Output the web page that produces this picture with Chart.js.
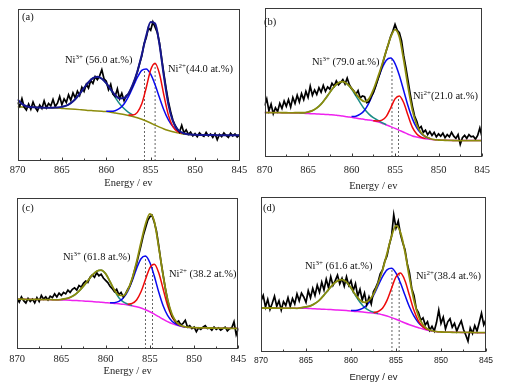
<!DOCTYPE html>
<html>
<head>
<meta charset="utf-8">
<script src="https://cdn.jsdelivr.net/npm/chart.js@4.4.1/dist/chart.umd.min.js"></script>
<style>
  body { margin: 0; background: #fff; }
  #page { position: relative; width: 507px; height: 390px; overflow: hidden; }
  #page canvas { position: absolute; }
  .note { position: absolute; font-family: "Liberation Serif", "Times New Roman", serif; font-size: 10.5px; line-height: 1; white-space: nowrap; color: #111; }
  .note sup { font-size: 7px; position: relative; top: -4px; vertical-align: baseline; }
</style>
</head>
<body>
<div id="page">
  <canvas id="chartA" width="250" height="195" style="left:0;top:0"></canvas>
  <canvas id="chartB" width="257" height="195" style="left:250px;top:0"></canvas>
  <canvas id="chartC" width="250" height="195" style="left:0;top:195px"></canvas>
  <canvas id="chartD" width="257" height="195" style="left:250px;top:195px"></canvas>

  <div class="note" style="left:22px;top:11.5px">(a)</div>
  <div class="note" style="left:65px;top:54.7px">Ni<sup>3+</sup> (56.0 at.%)</div>
  <div class="note" style="left:168px;top:63.7px">Ni<sup>2+</sup>(44.0 at.%)</div>

  <div class="note" style="left:264px;top:16.7px">(b)</div>
  <div class="note" style="left:312px;top:57.2px">Ni<sup>3+</sup> (79.0 at.%)</div>
  <div class="note" style="left:413px;top:90.7px">Ni<sup>2+</sup>(21.0 at.%)</div>

  <div class="note" style="left:22px;top:203.2px">(c)</div>
  <div class="note" style="left:63px;top:252.4px">Ni<sup>3+</sup> (61.8 at.%)</div>
  <div class="note" style="left:169px;top:269.4px">Ni<sup>2+</sup> (38.2 at.%)</div>

  <div class="note" style="left:263px;top:202.7px">(d)</div>
  <div class="note" style="left:305px;top:261px">Ni<sup>3+</sup> (61.6 at.%)</div>
  <div class="note" style="left:416px;top:271px">Ni<sup>2+</sup>(38.4 at.%)</div>
</div>

<script>
// energy axis (eV), drawn high -> low
const highEnergy = 870;
const lowEnergy = 845;
const dataStep = 0.25; // measured spectrum sampling
const fitStep = 0.5;   // fitted curves sampling
const tickValues = [870, 865, 860, 855, 850, 845];
const minorTickValues = [867.5, 862.5, 857.5, 852.5, 847.5];
const axisTitle = "Energy / ev";

// ---------- (a) ----------
const aMeasured = [
  38.5, 36.0, 41.0, 35.5, 33.5, 37.5, 34.0, 38.8, 35.2, 33.0,
  36.8, 34.5, 39.5, 35.0, 37.8, 36.2, 40.5, 35.8, 38.0, 42.5,
  37.0, 40.8, 38.5, 43.5, 40.0, 44.8, 41.5, 46.0, 43.2, 48.5,
  45.8, 50.5, 48.0, 53.0, 51.0, 55.5, 53.5, 56.0, 60.0, 54.0,
  52.5, 47.0, 50.5, 44.0, 42.5, 47.5, 41.0, 44.5, 39.8, 43.0,
  44.0, 47.0, 50.0, 54.0, 58.5, 64.0, 69.0, 77.0, 81.0, 87.5,
  86.0, 91.5, 88.0, 84.5, 77.5, 67.0, 57.0, 47.5, 39.0, 32.5,
  27.0, 23.5, 21.0, 19.0, 23.5, 18.5, 20.5, 17.5, 19.0, 16.5,
  18.0, 16.0, 18.5, 17.0, 16.2, 18.8, 16.5, 17.8, 15.5, 18.0,
  14.0, 17.5, 16.0, 18.5, 16.8, 15.5, 18.2, 16.5, 17.8, 15.8,
  17.0
];
const aEnvelope = [
  40.5, 37.6, 36.0, 35.5, 35.3, 35.2, 35.1, 35.0, 35.1, 35.2,
  35.6, 36.4, 38.1, 40.6, 44.1, 48.1, 51.8, 54.5, 55.4, 54.1,
  51.2, 47.2, 43.4, 41.2, 41.4, 44.3, 50.5, 58.9, 69.9, 82.4,
  91.5, 90.5, 76.5, 55.3, 37.1, 26.2, 20.9, 18.8, 17.8, 17.4,
  17.2, 17.1, 17.1, 17.1, 17.1, 17.0, 17.0, 17.0, 17.0, 17.0, 17.0
];
const aBackground = [
  35.7, 35.6, 35.5, 35.4, 35.3, 35.2, 35.1, 35.0, 34.9, 34.8,
  34.6, 34.4, 34.2, 34.0, 33.8, 33.6, 33.3, 33.1, 32.9, 32.7,
  32.5, 32.1, 31.6, 31.1, 30.6, 30.0, 29.3, 28.5, 27.5, 26.3,
  25.0, 23.6, 22.3, 21.1, 20.1, 19.2, 18.5, 18.0, 17.6, 17.4,
  17.2, 17.1, 17.1, 17.1, 17.1, 17.0, 17.0, 17.0, 17.0, 17.0, 17.0
];
const aSatFrom = 865;
const aSat = [35.6, 36.4, 38.1, 40.6, 44.1, 48.1, 51.8, 54.5, 55.4, 54.1, 51.0, 46.6, 41.9, 37.7, 34.5, 32.0, 30.3];
const aNi3From = 860;
const aNi3 = [32.7, 32.7, 33.1, 34.6, 37.5, 42.3, 48.6, 55.0, 59.6, 60.5, 57.1, 50.1, 41.6, 33.4, 27.0, 22.7, 20.0, 18.6, 17.8];
const aNi2From = 857.5;
const aNi2 = [30.2, 30.2, 32.0, 37.6, 48.2, 59.9, 64.3, 57.2, 43.0, 30.2, 22.7, 19.4, 18.2];
const aPeaks = [855.7, 854.5];

// ---------- (b) ----------
const bMeasured = [
  34.5, 39.0, 31.0, 35.5, 29.0, 33.0, 30.5, 36.0, 32.5, 37.5,
  34.0, 38.5, 33.5, 40.0, 36.0, 41.5, 37.0, 42.5, 38.5, 44.0,
  40.0, 47.5, 41.5, 45.0, 42.0, 46.5, 43.5, 48.0, 44.0, 47.0,
  45.5, 49.5, 47.5, 51.0, 48.5, 50.0, 52.0, 49.0, 53.0, 48.5,
  46.0, 44.5, 42.0, 44.5, 39.5, 41.0, 40.5, 36.5, 37.0, 40.5,
  43.0, 47.0, 51.5, 56.0, 61.0, 66.5, 71.5, 76.0, 81.0, 84.5,
  89.0, 85.0, 83.5, 78.0, 68.0, 60.0, 51.0, 42.0, 34.0, 27.5,
  24.0, 19.0, 20.5, 16.5, 18.0, 15.0, 17.0, 14.5, 16.5, 13.5,
  15.5, 14.0, 16.0, 13.0, 15.0, 13.5, 16.5, 14.0, 12.5, 15.0,
  8.5, 13.0, 14.5, 12.5, 15.0, 13.5, 14.0, 12.0, 14.5, 19.5,
  13.5
];
const bEnvelope = [
  29.8, 29.8, 29.8, 29.8, 29.7, 29.7, 29.6, 29.7, 29.7, 29.7,
  30.2, 31.1, 32.9, 35.5, 39.2, 43.3, 47.2, 49.8, 50.6, 49.0,
  46.1, 42.3, 39.0, 37.2, 39.0, 45.0, 53.1, 61.9, 71.5, 80.5,
  85.5, 80.5, 65.0, 47.0, 31.4, 21.6, 16.3, 13.7, 12.4, 11.6,
  11.4, 11.3, 11.2, 11.1, 11.0, 11.0, 11.0, 11.0, 11.0, 11.0, 11.0
];
const bBackground = [
  29.8, 29.8, 29.8, 29.8, 29.7, 29.7, 29.6, 29.6, 29.5, 29.3,
  29.2, 29.0, 28.9, 28.7, 28.6, 28.4, 28.2, 27.8, 27.5, 27.0,
  26.6, 26.1, 25.7, 25.2, 24.8, 24.3, 23.7, 22.7, 21.5, 20.4,
  19.2, 17.9, 16.6, 15.3, 14.1, 13.4, 12.8, 12.3, 11.9, 11.6,
  11.4, 11.3, 11.2, 11.1, 11.0, 11.0, 11.0, 11.0, 11.0, 11.0, 11.0
];
const bSatFrom = 866;
const bSat = [29.7, 29.7, 30.2, 31.1, 32.9, 35.5, 39.2, 43.3, 47.2, 49.8, 50.6, 49.0, 45.6, 41.0, 36.3, 32.0, 28.8, 26.4, 24.7, 23.1, 21.7];
const bNi3From = 860;
const bNi3 = [27.1, 27.4, 28.7, 31.4, 36.3, 43.2, 51.6, 59.5, 65.0, 66.4, 62.7, 54.7, 44.5, 34.2, 25.6, 19.6, 15.8, 13.6, 12.4];
const bNi2From = 857.5;
const bNi2 = [24.4, 24.2, 24.7, 27.3, 32.9, 39.0, 41.0, 36.4, 27.8, 19.9, 15.4, 13.3, 12.4];
const bPeaks = [855.35, 854.6];

// ---------- (c) ----------
const cMeasured = [
  33.5, 31.0, 34.5, 32.0, 30.5, 33.5, 31.5, 33.0, 30.5, 34.0,
  31.5, 35.5, 33.0, 34.5, 32.5, 35.0, 34.0, 36.5, 34.5, 37.0,
  35.5, 37.5, 36.5, 39.0, 37.5, 39.5, 40.5, 39.0, 42.0, 41.0,
  43.5, 45.0, 44.0, 47.5, 49.0, 47.5, 50.5, 48.5, 49.5, 47.0,
  45.5, 44.0, 41.5, 40.0, 38.0, 39.5, 36.0, 37.5, 34.5, 36.5,
  39.5, 42.0, 46.0, 51.5, 56.5, 62.5, 68.5, 75.0, 80.0, 85.0,
  87.5, 88.5, 84.0, 78.0, 68.5, 58.0, 49.0, 40.0, 32.5, 26.5,
  22.0, 19.5, 17.5, 18.5, 16.0, 17.0, 19.0, 14.5, 15.5, 13.5,
  14.5, 11.5, 14.0, 13.0, 14.5, 15.5, 13.5, 14.0, 12.5, 14.5,
  13.0, 14.0, 12.5, 13.5, 14.5, 12.0, 13.5, 14.0, 18.0, 9.5,
  13.5
];
const cEnvelope = [
  33.0, 33.0, 32.9, 32.9, 32.8, 32.8, 32.7, 32.7, 32.6, 32.5,
  32.8, 33.3, 34.2, 35.8, 38.3, 41.6, 45.3, 48.9, 51.5, 52.2,
  49.9, 44.7, 39.1, 35.6, 35.3, 39.0, 46.6, 57.7, 70.5, 82.5,
  89.5, 84.5, 67.5, 48.6, 32.9, 22.9, 17.9, 15.6, 14.7, 14.3,
  14.1, 14.0, 14.0, 13.9, 13.9, 13.8, 13.8, 13.8, 13.7, 13.7, 13.7
];
const cBackground = [
  33.0, 33.0, 32.9, 32.9, 32.8, 32.8, 32.7, 32.7, 32.6, 32.5,
  32.4, 32.4, 32.3, 32.1, 32.0, 31.8, 31.6, 31.4, 31.2, 30.9,
  30.7, 30.5, 30.2, 29.9, 29.6, 29.2, 28.7, 28.0, 27.2, 26.0,
  24.7, 23.1, 21.4, 19.7, 18.1, 16.8, 15.9, 15.1, 14.6, 14.3,
  14.1, 14.0, 14.0, 13.9, 13.9, 13.8, 13.8, 13.8, 13.7, 13.7, 13.7
];
const cSatFrom = 865;
const cSat = [32.8, 33.3, 34.2, 35.8, 38.3, 41.6, 45.3, 48.9, 51.5, 52.2, 49.9, 44.6, 38.6, 34.0, 31.2, 29.7, 28.8];
const cNi3From = 859.5;
const cNi3 = [30.6, 30.7, 31.5, 33.7, 38.1, 45.0, 53.2, 59.8, 61.6, 57.3, 48.3, 37.7, 28.6, 22.2, 18.4, 16.4, 15.2, 14.6];
const cNi2From = 857.5;
const cNi2 = [29.6, 30.2, 32.5, 37.9, 46.0, 53.8, 56.1, 50.5, 39.7, 28.8, 21.3, 17.4, 15.5];
const cPeaks = [855.5, 854.7];

// ---------- (d) ----------
const dMeasured = [
  33.0, 36.5, 29.0, 34.0, 27.5, 31.5, 36.0, 29.5, 33.0, 27.0,
  32.5, 30.0, 35.0, 29.5, 34.5, 31.0, 37.5, 33.0, 38.0, 35.5,
  32.0, 39.5, 35.0, 41.0, 36.5, 43.0, 38.5, 45.0, 40.0, 47.0,
  41.5, 48.5, 43.0, 46.0, 49.5, 44.0, 47.5, 42.5, 48.5, 43.0,
  46.0, 39.5, 44.0, 36.0, 40.5, 33.5, 38.0, 30.5, 35.5, 31.0,
  39.0, 41.5, 45.0, 50.5, 53.0, 58.5, 62.0, 69.0, 74.5, 88.5,
  80.0, 84.5, 76.0, 70.5, 66.0, 57.0, 51.0, 41.0, 36.5, 28.0,
  25.5, 20.5, 22.0, 17.5, 19.5, 14.0, 16.5, 13.5, 19.0, 27.0,
  18.5, 22.5, 15.0, 19.5, 21.5, 16.0, 18.5, 13.5, 17.0, 20.0,
  14.5, 11.0, 7.0, 15.5, 12.0, 17.0, 13.5, 19.0, 25.0, 17.5,
  21.0
];
const dEnvelope = [
  28.4, 28.4, 28.4, 28.4, 28.3, 28.3, 28.3, 28.3, 28.2, 28.6,
  29.1, 29.8, 31.3, 33.5, 36.7, 40.2, 43.6, 45.9, 46.7, 45.1,
  41.4, 36.9, 33.5, 32.0, 33.3, 37.3, 44.2, 52.8, 63.5, 74.5,
  81.5, 77.0, 64.5, 47.8, 33.2, 23.1, 17.6, 14.9, 13.7, 13.1,
  12.9, 12.8, 12.8, 12.7, 12.7, 12.6, 12.6, 12.6, 12.5, 12.5, 12.5
];
const dBackground = [
  28.4, 28.4, 28.4, 28.4, 28.3, 28.3, 28.3, 28.3, 28.2, 28.2,
  28.2, 28.0, 27.9, 27.7, 27.6, 27.4, 27.3, 27.1, 26.9, 26.7,
  26.5, 26.2, 26.0, 25.7, 25.4, 25.1, 24.7, 24.0, 23.2, 22.2,
  21.1, 19.9, 18.7, 17.6, 16.6, 15.7, 14.8, 14.1, 13.5, 13.1,
  12.9, 12.8, 12.8, 12.7, 12.7, 12.6, 12.6, 12.6, 12.5, 12.5, 12.5
];
const dSatFrom = 865.5;
const dSat = [28.6, 29.1, 29.8, 31.3, 33.5, 36.7, 40.2, 43.6, 45.9, 46.7, 45.1, 41.2, 36.4, 32.1, 28.8, 26.8, 25.6, 24.9];
const dNi3From = 860;
const dNi3 = [26.7, 26.7, 27.4, 28.9, 31.9, 36.5, 42.6, 48.6, 53.0, 54.0, 50.9, 44.5, 36.6, 29.0, 23.1, 18.9, 16.2, 14.6, 13.7];
const dNi2From = 857.5;
const dNi2 = [25.4, 26.1, 28.2, 33.3, 41.0, 48.4, 50.9, 46.0, 36.4, 26.7, 19.9, 16.2, 14.4];
const dPeaks = [855.45, 854.65];

const OLIVE = "#8c8c0c";
const NAVY = "#16168e";
const MAGENTA = "#ee22ee";
const TEAL = "#1a8c86";
const BLUE = "#0a0aee";
const RED = "#ee0a0a";
const SERIF = '"Liberation Serif", "Times New Roman", serif';
const SANS = '"Liberation Sans", Arial, sans-serif';

function onGrid(from, step, values) {
  return values.map((v, i) => ({ x: from - i * step, y: v }));
}

function fitLine(points, color, order, width) {
  return {
    data: points, borderColor: color, borderWidth: width || 1.5,
    cubicInterpolationMode: "monotone", pointRadius: 0, order: order
  };
}

function dropLine(energy, height) {
  return {
    data: [{ x: energy, y: 0 }, { x: energy, y: height }],
    borderColor: "#555", borderWidth: 0.9, borderDash: [2, 2],
    pointRadius: 0, order: 6
  };
}

// box round the plot + small inward ticks on the energy axis
const framePlugin = {
  id: "frame",
  afterDatasetsDraw(chart) {
    const { ctx, chartArea } = chart;
    const x = chart.scales.x;
    ctx.save();
    ctx.strokeStyle = "#3a3a3a";
    ctx.lineWidth = 1;
    ctx.strokeRect(Math.round(chartArea.left) + 0.5, Math.round(chartArea.top) + 0.5,
      Math.round(chartArea.width) - 1, Math.round(chartArea.height) - 1);
    ctx.beginPath();
    const base = Math.round(chartArea.bottom) - 0.5;
    tickValues.forEach(v => {
      const px = Math.round(x.getPixelForValue(v)) + 0.5;
      ctx.moveTo(px, base); ctx.lineTo(px, base - 3);
    });
    minorTickValues.forEach(v => {
      const px = Math.round(x.getPixelForValue(v)) + 0.5;
      ctx.moveTo(px, base); ctx.lineTo(px, base - 2);
    });
    ctx.stroke();
    ctx.restore();
  }
};

function makePanel(id, p) {
  const datasets = [
    fitLine(onGrid(highEnergy, fitStep, p.envelope), p.envelopeColor, 0, p.envelopeWidth),
    { data: onGrid(highEnergy, dataStep, p.measured), borderColor: "#000", borderWidth: 1.7,
      tension: 0, pointRadius: 0, order: 1 },
    fitLine(onGrid(p.ni2From, fitStep, p.ni2), RED, 2),
    fitLine(onGrid(p.ni3From, fitStep, p.ni3), BLUE, 3),
    fitLine(onGrid(p.satFrom, fitStep, p.sat), TEAL, 4),
    fitLine(onGrid(highEnergy, fitStep, p.background), p.backgroundColor, 5),
    dropLine(p.peaks[0], Math.max(...p.ni3)),
    dropLine(p.peaks[1], Math.max(...p.ni2))
  ];

  return new Chart(document.getElementById(id), {
    type: "line",
    data: { datasets },
    options: {
      responsive: false,
      animation: false,
      events: [],
      layout: { padding: { top: p.top, bottom: 0, left: 0, right: 0 } },
      plugins: { legend: { display: false }, tooltip: { enabled: false } },
      scales: {
        x: {
          type: "linear", reverse: true, min: lowEnergy, max: highEnergy,
          afterBuildTicks: s => { s.ticks = tickValues.map(v => ({ value: v })); },
          afterFit: s => { s.height = p.axisHeight; },
          grid: { display: false, drawTicks: false },
          border: { display: false },
          ticks: { padding: p.tickPad, color: "#222", maxRotation: 0,
                   font: { family: p.font, size: p.tickSize } },
          title: { display: true, text: axisTitle, color: "#222",
                   padding: { top: 0, bottom: p.titlePad },
                   font: { family: p.font, size: p.titleSize } }
        },
        y: {
          min: 0, max: 100, position: "left",
          afterFit: s => { s.width = p.leftGap; },
          ticks: { display: false }, grid: { display: false }, border: { display: false }
        },
        yRight: {
          position: "right",
          afterFit: s => { s.width = p.rightGap; },
          ticks: { display: false }, grid: { display: false }, border: { display: false }
        }
      }
    },
    plugins: [framePlugin]
  });
}

makePanel("chartA", {
  measured: aMeasured, envelope: aEnvelope, background: aBackground,
  sat: aSat, satFrom: aSatFrom, ni3: aNi3, ni3From: aNi3From, ni2: aNi2, ni2From: aNi2From,
  peaks: aPeaks, envelopeColor: NAVY, envelopeWidth: 2, backgroundColor: OLIVE,
  top: 9, leftGap: 17.5, rightGap: 9.5, axisHeight: 34, tickPad: 2.7, titlePad: 5.7,
  font: SERIF, tickSize: 10.5, titleSize: 10.5
});

makePanel("chartB", {
  measured: bMeasured, envelope: bEnvelope, background: bBackground,
  sat: bSat, satFrom: bSatFrom, ni3: bNi3, ni3From: bNi3From, ni2: bNi2, ni2From: bNi2From,
  peaks: bPeaks, envelopeColor: OLIVE, envelopeWidth: 1.8, backgroundColor: MAGENTA,
  top: 8, leftGap: 9, rightGap: 25, axisHeight: 38, tickPad: 6.7, titlePad: 2.7,
  font: SERIF, tickSize: 10.5, titleSize: 10.5
});

makePanel("chartC", {
  measured: cMeasured, envelope: cEnvelope, background: cBackground,
  sat: cSat, satFrom: cSatFrom, ni3: cNi3, ni3From: cNi3From, ni2: cNi2, ni2From: cNi2From,
  peaks: cPeaks, envelopeColor: OLIVE, envelopeWidth: 1.8, backgroundColor: MAGENTA,
  top: 3, leftGap: 17, rightGap: 9, axisHeight: 41, tickPad: 3.7, titlePad: 12.5,
  font: SERIF, tickSize: 10.5, titleSize: 10.5
});

makePanel("chartD", {
  measured: dMeasured, envelope: dEnvelope, background: dBackground,
  sat: dSat, satFrom: dSatFrom, ni3: dNi3, ni3From: dNi3From, ni2: dNi2, ni2From: dNi2From,
  peaks: dPeaks, envelopeColor: OLIVE, envelopeWidth: 1.8, backgroundColor: MAGENTA,
  top: 2, leftGap: 7, rightGap: 21, axisHeight: 38, tickPad: 3.9, titlePad: 6.6,
  font: SANS, tickSize: 8.5, titleSize: 9.5
});
</script>
</body>
</html>
